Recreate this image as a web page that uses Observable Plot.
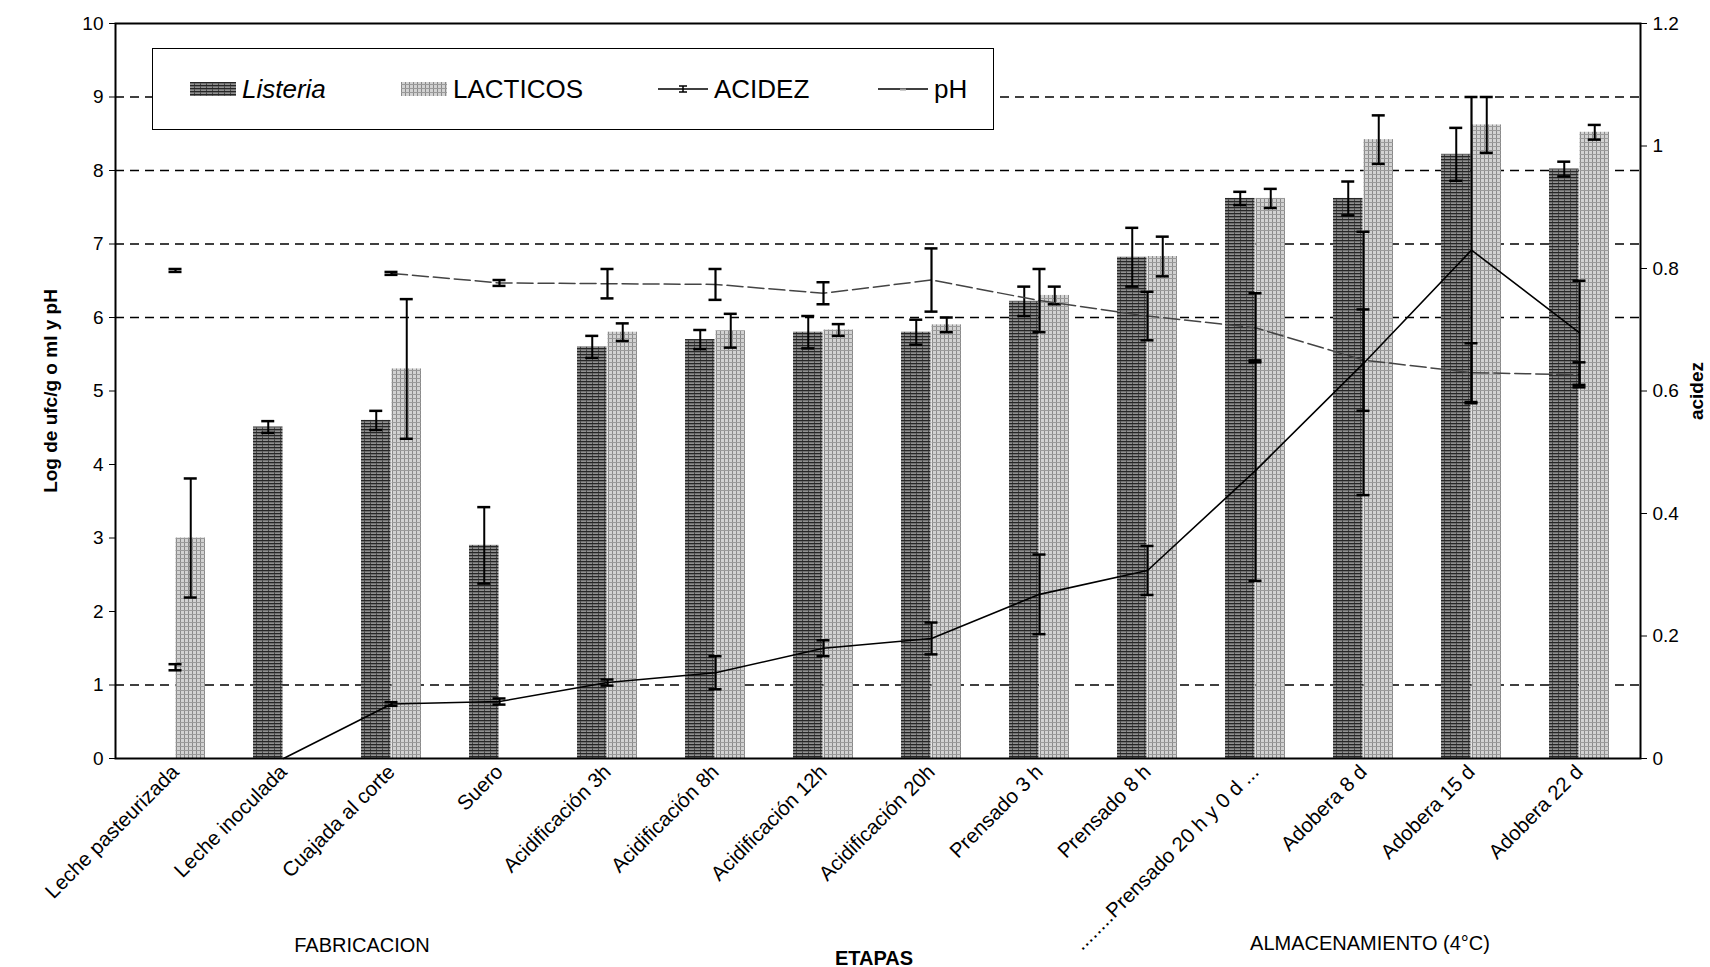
<!DOCTYPE html>
<html><head><meta charset="utf-8">
<script src="https://cdn.jsdelivr.net/npm/d3@7"></script>
<script src="https://cdn.jsdelivr.net/npm/@observablehq/plot@0.6"></script>
<style>
body{margin:0;background:#fff;font-family:"Liberation Sans",Arial,sans-serif;color:#000;}
#wrap{position:relative;width:1710px;height:967px;overflow:hidden;}
#wrap > svg{position:absolute;left:0;top:0;}
.legend{position:absolute;left:152px;top:48px;width:842px;height:82px;background:#fff;border:1.5px solid #000;box-sizing:border-box;}
.li{position:absolute;top:0;height:100%;display:flex;align-items:center;font-size:26px;white-space:nowrap;}
.li svg{margin-right:6px;}
.grp{position:absolute;font-size:20px;transform:translate(-50%,-50%);white-space:nowrap;}
</style></head><body><div id="wrap"></div>
<script>
// ---------- data ----------
const categories = ["Leche pasteurizada","Leche inoculada","Cuajada al corte","Suero","Acidificación 3h","Acidificación 8h","Acidificación 12h","Acidificación 20h","Prensado 3 h","Prensado 8 h","........Prensado 20 h y 0 d ...","Adobera 8 d","Adobera 15 d","Adobera 22 d"];
const listeria    = [null, 4.51, 4.6, 2.9, 5.6, 5.7, 5.8, 5.8, 6.22, 6.82, 7.62, 7.62, 8.22, 8.02];
const listeriaErr = [null, 0.08, 0.13, 0.52, 0.15, 0.13, 0.22, 0.17, 0.2, 0.4, 0.09, 0.23, 0.36, 0.1];
const lacticos    = [3.0, null, 5.3, null, 5.8, 5.82, 5.83, 5.9, 6.3, 6.83, 7.62, 8.42, 8.62, 8.52];
const lacticosErr = [0.81, null, 0.95, null, 0.12, 0.23, 0.08, 0.1, 0.12, 0.27, 0.13, 0.33, 0.38, 0.1];
const acidez      = [0.149, 0, 0.089, 0.093, 0.124, 0.14, 0.18, 0.196, 0.268, 0.307, 0.47, 0.645, 0.83, 0.695];
const acidezErr   = [0.005, null, 0.003, 0.005, 0.005, 0.027, 0.013, 0.026, 0.065, 0.04, 0.18, 0.215, 0.25, 0.085];
const pH          = [6.64, null, 6.6, 6.47, 6.46, 6.45, 6.33, 6.51, 6.23, 6.02, 5.86, 5.42, 5.25, 5.22];
const pHErr       = [0.02, null, 0.02, 0.04, 0.2, 0.21, 0.15, 0.43, 0.43, 0.33, 0.47, 0.69, 0.4, 0.17];
const leftTicks   = [0,1,2,3,4,5,6,7,8,9,10];
const rightTicks  = [0,0.2,0.4,0.6,0.8,1,1.2];
const gridLines   = [1,6,7,8,9];
const groupLabels = ["FABRICACION","ETAPAS","ALMACENAMIENTO (4°C)"];
const legendNames = ["Listeria","LACTICOS","ACIDEZ","pH"];

// ---------- layout ----------
const W = 1710, H = 967, ml = 115, mr = 70, mt = 23, mb = 209;
const k = 10 / 1.2; // acidez (right axis) -> left axis units
const step = (W - ml - mr) / categories.length;
const bw = step * 0.56, half = bw / 2, q = bw / 4, capW = 14, capIn = (bw - capW) / 2;

const rows = (vals, errs) => categories.map((c, i) => ({cat: c, v: vals[i], e: errs[i]}));
const lis = rows(listeria, listeriaErr).filter(d => d.v != null);
const lac = rows(lacticos, lacticosErr).filter(d => d.v != null);
const ac = rows(acidez.map(v => v == null ? null : v * k), acidezErr.map(e => e == null ? null : e * k));
const ph = rows(pH, pHErr);

function errMarks(data, dx, sw) {
  const d = data.filter(r => r.v != null && r.e != null && r.e > 0);
  return [
    Plot.ruleX(d, {x: "cat", y1: r => r.v - r.e, y2: r => r.v + r.e, dx, stroke: "#000", strokeWidth: sw}),
    Plot.tickY(d, {x: "cat", y: r => r.v + r.e, dx, insetLeft: capIn, insetRight: capIn, stroke: "#000", strokeWidth: 2.5}),
    Plot.tickY(d, {x: "cat", y: r => r.v - r.e, dx, insetLeft: capIn, insetRight: capIn, stroke: "#000", strokeWidth: 2.5})
  ];
}

const chart = Plot.plot({
  width: W, height: H,
  marginLeft: ml, marginRight: mr, marginTop: mt, marginBottom: mb,
  style: {fontFamily: "'Liberation Sans', Arial, sans-serif", color: "#000", background: "#fff"},
  x: {domain: categories, paddingInner: 0.44, paddingOuter: 0.22, axis: null},
  y: {domain: [0, 10], axis: null},
  marks: [
    Plot.ruleY(gridLines, {stroke: "#000", strokeWidth: 1.4, strokeDasharray: "9,6"}),
    Plot.barY(lis, {x: "cat", y: "v", fill: "url(#patL)", insetRight: half}),
    Plot.barY(lac, {x: "cat", y: "v", fill: "url(#patC)", insetLeft: half}),
    ...errMarks(lis, -q, 2),
    ...errMarks(lac, q, 2),
    Plot.line(ph, {x: "cat", y: "v", stroke: "#444", strokeWidth: 1.5, strokeDasharray: "16,5"}),
    Plot.line(ac.slice(1), {x: "cat", y: "v", stroke: "#000", strokeWidth: 1.6}),
    ...errMarks(ph, 0, 2.2),
    ...errMarks(ac, 0, 2.2),
    Plot.axisY(leftTicks, {anchor: "left", fontSize: 19, tickSize: 6, tickPadding: 6,
      tickFormat: d => String(d),
      label: "Log de ufc/g o ml y pH", labelAnchor: "center", labelOffset: 72, labelArrow: "none"}),
    Plot.axisY(rightTicks.map(v => v * k), {anchor: "right", fontSize: 19, tickSize: 6, tickPadding: 6,
      tickFormat: d => String(+(d / k).toFixed(1)),
      label: "acidez", labelAnchor: "center", labelOffset: 62, labelArrow: "none"}),
    Plot.axisX({tickRotate: -45, tickSize: 0, tickPadding: 10, fontSize: 20.5, label: null}),
    Plot.frame({stroke: "#000", strokeWidth: 2})
  ]
});

// fill patterns for the bars
d3.select(chart).insert("defs", ":first-child").html(`
  <pattern id="patL" width="6" height="3" patternUnits="userSpaceOnUse">
    <rect width="6" height="3" fill="#909090"/>
    <rect width="6" height="1.3" fill="#262626"/>
    <rect x="4" y="1.3" width="1" height="1.7" fill="#444"/>
  </pattern>
  <pattern id="patC" width="4" height="4" patternUnits="userSpaceOnUse">
    <rect width="4" height="4" fill="#d2d2d2"/>
    <rect width="1" height="4" fill="#8a8a8a"/>
    <rect y="2" width="4" height="1" fill="#9a9a9a"/>
  </pattern>`);
d3.select(chart).selectAll('g[aria-label="y-axis label"] text')
  .style("font-weight", "bold")
  .text(function() { return this.textContent.replace(/\s*[↑↓→←]\s*/g, "").trim(); });

const wrap = document.getElementById("wrap");
wrap.appendChild(chart);

// legend (inside plot area, white box)
const lg = document.createElement("div");
lg.className = "legend";
const sw = (fill) => `<svg width="46" height="14"><rect width="46" height="14" fill="${fill}"/></svg>`;
const lineSw = (withBar, stroke) => `<svg width="50" height="20"><line x1="0" x2="50" y1="10" y2="10" stroke="${stroke}" stroke-width="1.6"/>` +
  (withBar ? `<line x1="25" x2="25" y1="7" y2="13" stroke="#000" stroke-width="1.5"/><line x1="21" x2="29" y1="7" y2="7" stroke="#000" stroke-width="1.5"/><line x1="21" x2="29" y1="13" y2="13" stroke="#000" stroke-width="1.5"/>` : `<line x1="22" x2="28" y1="10.5" y2="10.5" stroke="#999" stroke-width="2"/>`) + `</svg>`;
lg.innerHTML = `
  <div class="li" style="left:37px">${sw("url(#patL)")}<i>${legendNames[0]}</i></div>
  <div class="li" style="left:248px">${sw("url(#patC)")}${legendNames[1]}</div>
  <div class="li" style="left:505px">${lineSw(true, "#000")}${legendNames[2]}</div>
  <div class="li" style="left:725px">${lineSw(false, "#000")}${legendNames[3]}</div>`;
wrap.appendChild(lg);

// group labels under the category axis
const gpos = [[362, 945, false], [874, 958, true], [1370, 943, false]];
groupLabels.forEach((t, i) => {
  const el = document.createElement("div");
  el.className = "grp";
  el.style.left = gpos[i][0] + "px";
  el.style.top = gpos[i][1] + "px";
  if (gpos[i][2]) el.style.fontWeight = "bold";
  el.textContent = t;
  wrap.appendChild(el);
});
</script></body></html>
